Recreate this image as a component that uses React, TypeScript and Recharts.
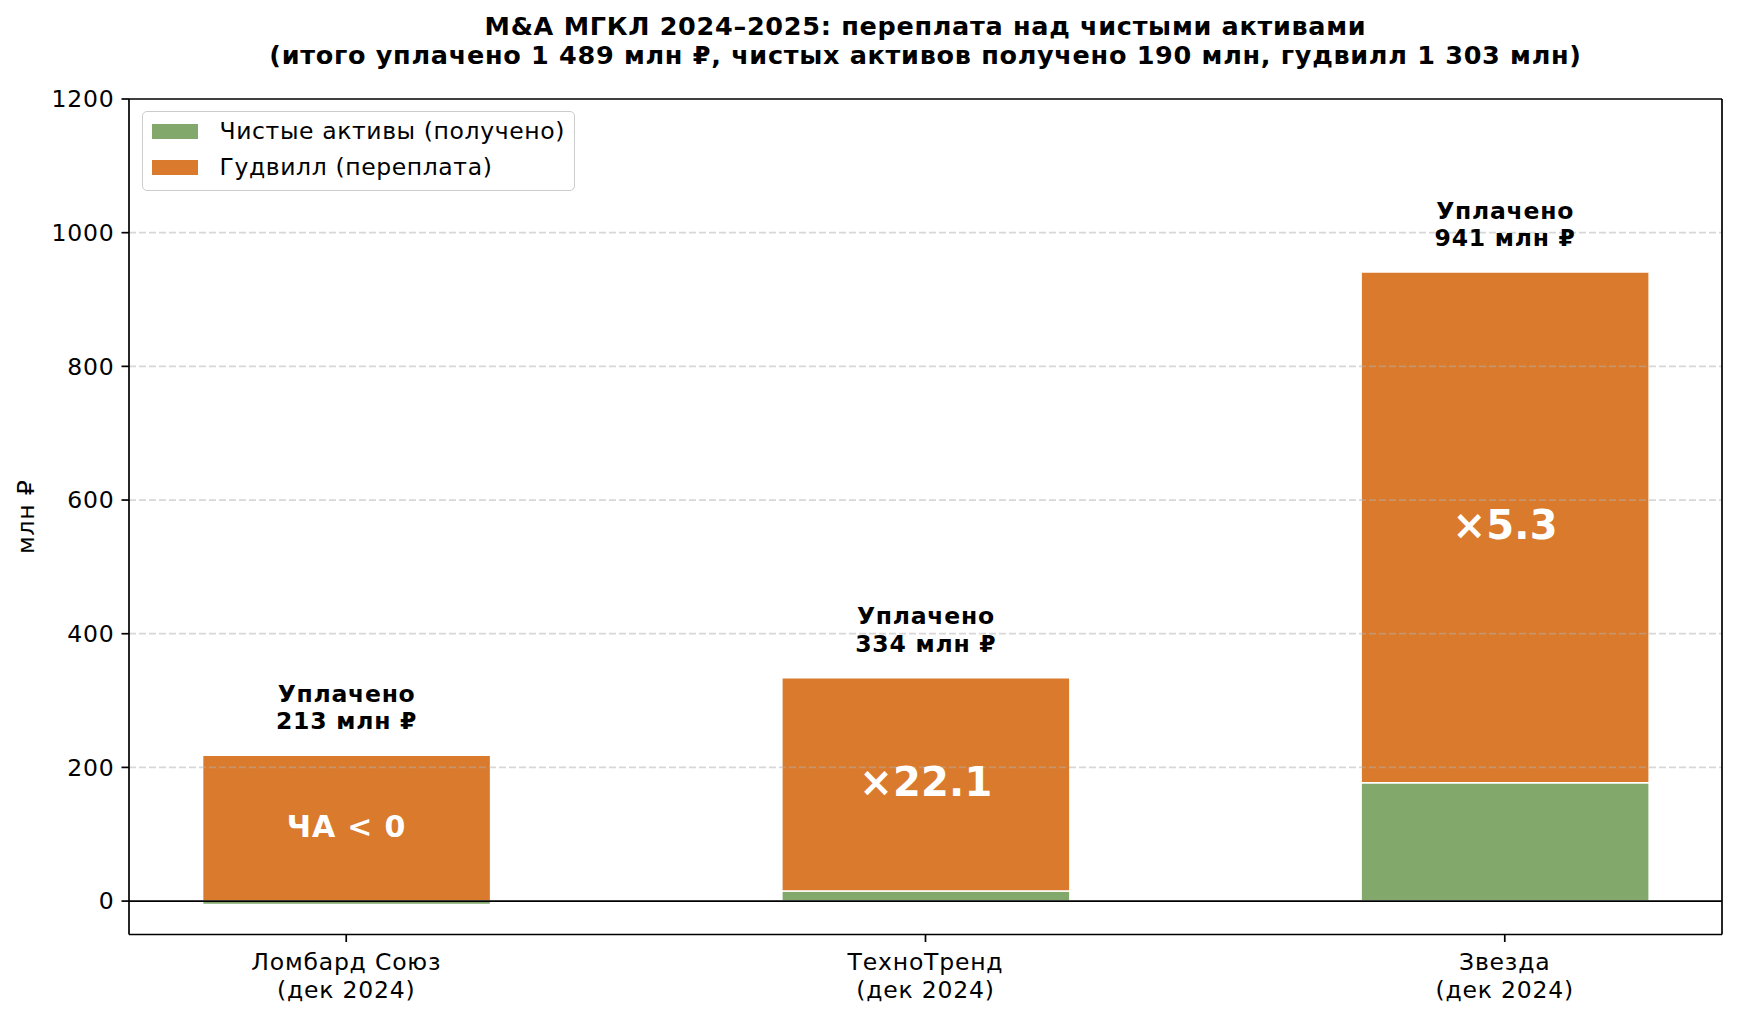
import React from 'react';
import { BarChart, Bar, XAxis, YAxis, ReferenceLine, LabelList, Legend } from 'recharts';

const categories = ['Ломбард Союз', 'ТехноТренд', 'Звезда'];
const periods = ['(дек 2024)', '(дек 2024)', '(дек 2024)'];
const netAssets = [-5, 15, 177];
const goodwill = [218, 319, 764];
const paid = [213, 334, 941];
const multiples = ['ЧА < 0', '×22.1', '×5.3'];
const yTicks = [0, 200, 400, 600, 800, 1000, 1200];
const seriesNames = ['Чистые активы (получено)', 'Гудвилл (переплата)'];
const titleLines = [
  'M&A МГКЛ 2024–2025: переплата над чистыми активами',
  '(итого уплачено 1 489 млн ₽, чистых активов получено 190 млн, гудвилл 1 303 млн)',
];

const GREEN = '#82a96b';
const ORANGE = '#d97a2c';
const FONT = 'DejaVu Sans';

const data = categories.map((c, i) => ({ idx: i, name: c, net: netAssets[i], goodwill: goodwill[i] }));
const xTicks = categories.map((_, i) => i);
const xDomain = [-0.375, categories.length - 1 + 0.375];
const yDomain = [-50, 1200];
const gridTicks = yTicks.filter((t) => t !== 0 && t !== yDomain[1]);

const XTick = (props: any) => {
  const { x, y, payload } = props;
  const i = payload.value as number;
  const st = { letterSpacing: '0.8px' };
  return (
    <g>
      <text x={x} y={y + 21} textAnchor="middle" fontSize={23.5} fontFamily={FONT} fill="#000" style={st}>
        {categories[i]}
      </text>
      <text x={x} y={y + 49.5} textAnchor="middle" fontSize={23.5} fontFamily={FONT} fill="#000" style={st}>
        {periods[i]}
      </text>
    </g>
  );
};

const renderBarLabels = (props: any) => {
  const { x, y, width, height, index } = props;
  const cx = Number(x) + Number(width) / 2;
  const top = Number(y);
  const mid = top + Number(height) / 2;
  const big = netAssets[index] >= 0;
  const fs = big ? 40 : 30;
  return (
    <g>
      <text x={cx} y={top - 53.6} textAnchor="middle" fontSize={23.5} fontWeight="bold" fontFamily={FONT} fill="#000" style={{ letterSpacing: '0.75px' }}>
        Уплачено
      </text>
      <text x={cx} y={top - 26} textAnchor="middle" fontSize={23.5} fontWeight="bold" fontFamily={FONT} fill="#000" style={{ letterSpacing: '0.75px' }}>
        {paid[index]} млн ₽
      </text>
      <text
        x={cx}
        y={mid + (big ? 11.5 : 8.5)}
        textAnchor="middle"
        fontSize={fs}
        fontWeight="bold"
        fontFamily={FONT}
        fill="#fff"
        style={{ letterSpacing: big ? '0.2px' : '0.85px' }}
      >
        {multiples[index]}
      </text>
    </g>
  );
};

const LegendContent = () => {
  const colors = [GREEN, ORANGE];
  return (
    <div
      style={{
        position: 'relative',
        boxSizing: 'border-box',
        width: 433,
        height: 80,
        border: '1.7px solid #cccccc',
        borderRadius: 5,
        background: 'rgba(255,255,255,0.8)',
        fontFamily: FONT,
        fontSize: 23.5,
        letterSpacing: '0.6px',
        color: '#000',
      }}
    >
      {seriesNames.map((n, i) => (
        <React.Fragment key={n}>
          <div
            style={{
              position: 'absolute',
              left: 9.5,
              top: 11.5 + i * 36.5,
              width: 46,
              height: 15,
              background: colors[i],
            }}
          />
          <div
            style={{
              position: 'absolute',
              left: 77,
              top: 7.5 + i * 36.5,
              lineHeight: '23px',
              whiteSpace: 'nowrap',
            }}
          >
            {n}
          </div>
        </React.Fragment>
      ))}
    </div>
  );
};

const YLabel = (props: any) => {
  const vb = props.viewBox || { x: 0, y: 0, width: 0, height: 0 };
  const cx = vb.x + 26;
  const cy = vb.y + vb.height / 2;
  return (
    <text
      x={cx}
      y={cy}
      transform={`rotate(-90 ${cx} ${cy})`}
      textAnchor="middle"
      dominantBaseline="central"
      fontSize={23.5}
      fontFamily={FONT}
      fill="#000"
      style={{ letterSpacing: '0.8px' }}
    >
      млн ₽
    </text>
  );
};

export default function App() {
  return (
    <div style={{ position: 'absolute', left: 0, top: 0, width: 1739, height: 1019, background: '#fff' }}>
      <div
        style={{
          position: 'absolute',
          left: 129,
          top: 12.2,
          width: 1593,
          textAlign: 'center',
          fontFamily: FONT,
          fontWeight: 'bold',
          fontSize: 25.5,
          letterSpacing: '0.7px',
          lineHeight: '29.3px',
          color: '#000',
          whiteSpace: 'nowrap',
        }}
      >
        {titleLines.map((t) => (
          <div key={t}>{t}</div>
        ))}
      </div>
      <BarChart
        width={1739}
        height={1019}
        data={data}
        stackOffset="sign"
        margin={{ top: 99, right: 17, left: 0, bottom: 0 }}
        style={{ fontFamily: FONT }}
      >
        <XAxis
          dataKey="idx"
          type="number"
          domain={xDomain}
          ticks={xTicks}
          allowDataOverflow
          height={84.5}
          tickSize={7.5}
          tickMargin={6.5}
          tick={<XTick />}
          tickLine={{ stroke: '#000', strokeWidth: 1.7 }}
          axisLine={{ stroke: '#000', strokeWidth: 1.7 }}
          interval={0}
        />
        <YAxis
          type="number"
          domain={yDomain}
          ticks={yTicks}
          allowDataOverflow
          width={129}
          tickSize={7.5}
          tickMargin={7}
          tick={{ fill: '#000', fontSize: 23.5, fontFamily: FONT, style: { letterSpacing: '0.8px' } }}
          tickLine={{ stroke: '#000', strokeWidth: 1.7 }}
          axisLine={{ stroke: '#000', strokeWidth: 1.7 }}
          label={<YLabel />}
        />
        <Legend
          layout="vertical"
          align="center"
          verticalAlign="middle"
          wrapperStyle={{ left: 141.5, top: 111, width: 433, height: 80, right: 'auto', bottom: 'auto' }}
          content={<LegendContent />}
        />
        <Bar
          dataKey="net"
          name={seriesNames[0]}
          stackId="a"
          fill={GREEN}
          stroke="#fff"
          strokeWidth={1.5}
          barSize={288}
          isAnimationActive={false}
        />
        <Bar
          dataKey="goodwill"
          name={seriesNames[1]}
          stackId="a"
          fill={ORANGE}
          stroke="#fff"
          strokeWidth={1.5}
          barSize={288}
          isAnimationActive={false}
        >
          <LabelList dataKey="goodwill" content={renderBarLabels} />
        </Bar>
        {gridTicks.map((t) => (
          <ReferenceLine key={t} y={t} stroke="#b0b0b0" strokeOpacity={0.5} strokeWidth={1.7} strokeDasharray="7 3" />
        ))}
        <ReferenceLine y={0} stroke="#000" strokeWidth={1.7} />
        <ReferenceLine y={yDomain[1]} stroke="#000" strokeWidth={1.7} />
        <ReferenceLine x={xDomain[1]} stroke="#000" strokeWidth={1.7} />
      </BarChart>
    </div>
  );
}
